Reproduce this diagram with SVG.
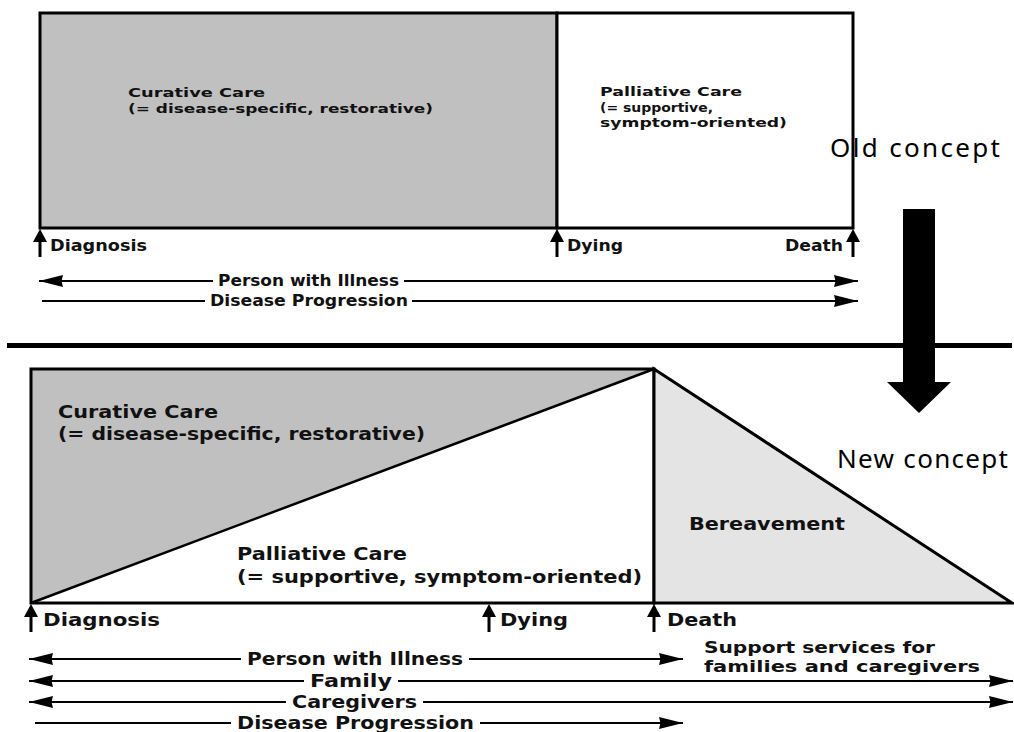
<svg xmlns="http://www.w3.org/2000/svg" xmlns:xlink="http://www.w3.org/1999/xlink" width="1014" height="732" viewBox="0 0 1014 732">
<style>
  .lbl { font-family: "DejaVu Sans", "Liberation Sans", sans-serif; font-weight: bold; fill: #111; }
  .s13 { font-size: 12.5px; }
  .s14 { font-size: 15px; }
  .s16 { font-size: 16px; }
  .s17 { font-size: 18px; }
  .concept { font-family: "Noto Sans", "Open Sans", sans-serif; font-size: 26px; fill: #000; }
  .edge { stroke: #000; stroke-width: 2.2; fill: none; }
  .box { stroke: #000; stroke-width: 3; }
</style>
<defs>
  <marker id="ah" markerUnits="userSpaceOnUse" markerWidth="26" markerHeight="14" refX="24" refY="7" orient="auto-start-reverse">
    <path d="M0,1 L24,7 L0,13 L1.5,7 Z" fill="#000"/>
  </marker>
  <g id="up">
    <line x1="0" y1="6" x2="0" y2="28" stroke="#000" stroke-width="3"/>
    <polygon points="0,0 -7,13 7,13" fill="#000"/>
  </g>
</defs>
<rect width="1014" height="732" fill="#fff"/>

<!-- Old concept -->
<g id="old-curative">
  <rect class="box" x="40" y="13" width="517" height="215" fill="#c0c0c0"/>
  <text class="lbl s13" x="128" y="97" textLength="137" lengthAdjust="spacingAndGlyphs">Curative Care</text>
  <text class="lbl s13" x="128" y="113" textLength="305" lengthAdjust="spacingAndGlyphs">(= disease-specific, restorative)</text>
</g>
<g id="old-palliative">
  <rect class="box" x="557" y="13" width="296" height="215" fill="#fff"/>
  <text class="lbl s13" x="600" y="96" textLength="142" lengthAdjust="spacingAndGlyphs">Palliative Care</text>
  <text class="lbl s13" x="600" y="111.5" textLength="113" lengthAdjust="spacingAndGlyphs">(= supportive,</text>
  <text class="lbl s13" x="600" y="127" textLength="187" lengthAdjust="spacingAndGlyphs">symptom-oriented)</text>
</g>
<g id="old-markers">
  <use xlink:href="#up" x="40" y="229"/>
  <text class="lbl s14" x="50" y="251" textLength="97" lengthAdjust="spacingAndGlyphs">Diagnosis</text>
  <use xlink:href="#up" x="557" y="229"/>
  <text class="lbl s14" x="567" y="251" textLength="56" lengthAdjust="spacingAndGlyphs">Dying</text>
  <use xlink:href="#up" x="853" y="229"/>
  <text class="lbl s14" x="785" y="251" textLength="58" lengthAdjust="spacingAndGlyphs">Death</text>
</g>
<g id="old-concept-label">
  <text class="concept" x="830" y="157" textLength="170">Old concept</text>
</g>

<!-- Transition -->
<g id="divider">
  <rect x="7" y="343" width="1005" height="5" fill="#000"/>
</g>
<g id="down-arrow">
  <polygon points="903,209 935,209 935,382 951,382 919,413 887,382 903,382" fill="#000"/>
</g>

<!-- New concept -->
<g id="new-care">
  <polygon points="31,369 654,369 31,603" fill="#c0c0c0"/>
  <polygon points="654,369 654,603 31,603" fill="#fff"/>
  <rect x="31" y="369" width="623" height="234" fill="none" stroke="#000" stroke-width="3"/>
  <line x1="31" y1="603" x2="654" y2="369" stroke="#000" stroke-width="2.5"/>
  <text class="lbl s17" x="58" y="418" textLength="160" lengthAdjust="spacingAndGlyphs">Curative Care</text>
  <text class="lbl s17" x="58" y="440" textLength="367" lengthAdjust="spacingAndGlyphs">(= disease-specific, restorative)</text>
  <text class="lbl s17" x="237" y="560" textLength="170" lengthAdjust="spacingAndGlyphs">Palliative Care</text>
  <text class="lbl s17" x="237" y="583" textLength="405" lengthAdjust="spacingAndGlyphs">(= supportive, symptom-oriented)</text>
</g>
<g id="new-bereavement">
  <polygon points="654,369 1012,603 654,603" fill="#e4e4e4" stroke="#000" stroke-width="3"/>
  <text class="lbl s17" x="689" y="530" textLength="156" lengthAdjust="spacingAndGlyphs">Bereavement</text>
</g>
<g id="new-markers">
  <use xlink:href="#up" x="31" y="604"/>
  <text class="lbl s17" x="43" y="626" textLength="117" lengthAdjust="spacingAndGlyphs">Diagnosis</text>
  <use xlink:href="#up" x="489" y="604"/>
  <text class="lbl s17" x="500" y="626" textLength="68" lengthAdjust="spacingAndGlyphs">Dying</text>
  <use xlink:href="#up" x="654" y="604"/>
  <text class="lbl s17" x="667" y="626" textLength="70" lengthAdjust="spacingAndGlyphs">Death</text>
</g>
<g id="new-concept-label">
  <text class="concept" x="837" y="468" textLength="171">New concept</text>
</g>
<g id="support-label">
  <text class="lbl s16" x="704" y="653" textLength="231" lengthAdjust="spacingAndGlyphs">Support services for</text>
  <text class="lbl s16" x="704" y="672" textLength="276" lengthAdjust="spacingAndGlyphs">families and caregivers</text>
</g>

<!-- Connectors -->
<g id="connectors">
  <line class="edge" x1="39" y1="281" x2="213" y2="281" marker-start="url(#ah)"/>
  <line class="edge" x1="404" y1="281" x2="858" y2="281" marker-end="url(#ah)"/>
  <line class="edge" x1="42" y1="301" x2="205" y2="301"/>
  <line class="edge" x1="412" y1="301" x2="858" y2="301" marker-end="url(#ah)"/>

  <line class="edge" x1="29" y1="659" x2="241" y2="659" marker-start="url(#ah)"/>
  <line class="edge" x1="469" y1="659" x2="683" y2="659" marker-end="url(#ah)"/>
  <line class="edge" x1="29" y1="681" x2="304" y2="681" marker-start="url(#ah)"/>
  <line class="edge" x1="398" y1="681" x2="1013" y2="681" marker-end="url(#ah)"/>
  <line class="edge" x1="29" y1="702" x2="286" y2="702" marker-start="url(#ah)"/>
  <line class="edge" x1="423" y1="702" x2="1013" y2="702" marker-end="url(#ah)"/>
  <line class="edge" x1="35" y1="723" x2="231" y2="723"/>
  <line class="edge" x1="480" y1="723" x2="683" y2="723" marker-end="url(#ah)"/>
</g>
<g id="connector-labels">
  <text class="lbl s14" x="218" y="286" textLength="181" lengthAdjust="spacingAndGlyphs">Person with Illness</text>
  <text class="lbl s14" x="210" y="306" textLength="198" lengthAdjust="spacingAndGlyphs">Disease Progression</text>
  <text class="lbl s17" x="247" y="665" textLength="216" lengthAdjust="spacingAndGlyphs">Person with Illness</text>
  <text class="lbl s17" x="310" y="687" textLength="82" lengthAdjust="spacingAndGlyphs">Family</text>
  <text class="lbl s17" x="292" y="708" textLength="125" lengthAdjust="spacingAndGlyphs">Caregivers</text>
  <text class="lbl s17" x="237" y="729" textLength="237" lengthAdjust="spacingAndGlyphs">Disease Progression</text>
</g>
</svg>
